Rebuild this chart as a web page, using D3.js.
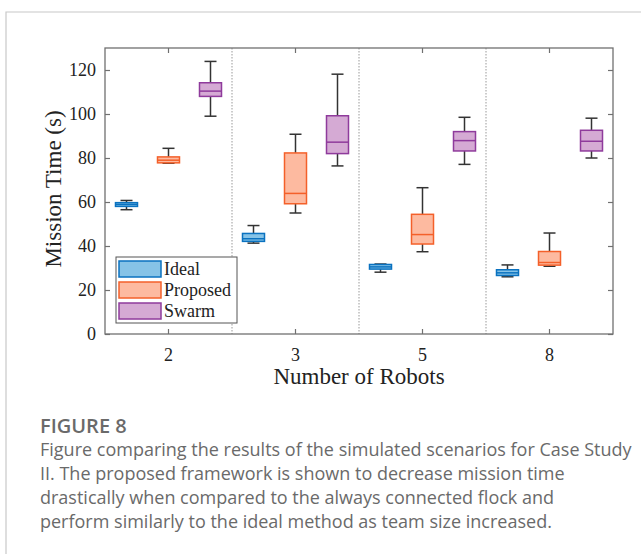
<!DOCTYPE html>
<html>
<head>
<meta charset="utf-8">
<script src="https://cdn.jsdelivr.net/npm/d3@7"></script>
<style>
  body { margin: 0; background: #fff; }
  svg text { font-family: "Liberation Serif", "DejaVu Serif", serif; }
  .caption { font-family: "Open Sans", "Noto Sans", sans-serif; fill: #6a6a6a; }
</style>
</head>
<body>
<script>
// robots per team (one group each)
const categories = ["2", "3", "5", "8"];
const seriesNames = ["Ideal", "Proposed", "Swarm"];
const yTicks = [0, 20, 40, 60, 80, 100, 120];

// box stats per group: [whisker low, q1, median, q3, whisker high]
const idealStats = [
  [56.5, 58.0, 58.9, 59.7, 60.7],
  [41.3, 42.1, 43.3, 45.7, 49.3],
  [28.1, 29.5, 30.5, 31.6, 31.8],
  [26.0, 26.6, 27.8, 29.2, 31.4]
];
const proposedStats = [
  [77.6, 77.8, 79.0, 80.5, 84.4],
  [55.0, 59.2, 63.9, 82.3, 90.8],
  [37.4, 40.9, 45.2, 54.4, 66.5],
  [30.8, 31.3, 32.5, 37.5, 45.9]
];
const swarmStats = [
  [99.0, 108.0, 110.4, 114.2, 123.9],
  [76.4, 82.0, 87.2, 99.2, 118.1],
  [77.1, 83.2, 87.9, 92.0, 98.5],
  [80.0, 83.2, 87.6, 92.6, 98.1]
];

const captionTitle = "FIGURE 8";
const captionLines = [
  "Figure comparing the results of the simulated scenarios for Case Study",
  "II. The proposed framework is shown to decrease mission time",
  "drastically when compared to the always connected flock and",
  "perform similarly to the ideal method as team size increased."
];

const strokes = ["#0a72c0", "#f4602a", "#8f3b9c"];
const fills = ["#86c3e7", "#fdbaa0", "#d5aad4"];
const allStats = [idealStats, proposedStats, swarmStats];

const W = 641, H = 554;
const margin = { left: 105, right: 28, top: 48, bottom: 220 };

const svg = d3.select("body").append("svg")
  .attr("width", W).attr("height", H);

// page frame
svg.append("path")
  .attr("d", `M6,${H} V12 H${W}`)
  .attr("fill", "none").attr("stroke", "#c8c8c8").attr("stroke-width", 1.2);

const x0 = margin.left, x1 = W - margin.right;
const y0 = H - margin.bottom, y1 = margin.top;

const x = d3.scaleBand().domain(categories).range([x0, x1]);
const y = d3.scaleLinear().domain([0, 130]).range([y0, y1]);
const offset = d3.scalePoint().domain(seriesNames).range([-42, 42]);
const boxW = 22, capW = 12;

// dotted separators between groups
categories.slice(1).forEach(c => {
  svg.append("line")
    .attr("x1", x(c)).attr("x2", x(c))
    .attr("y1", y1).attr("y2", y0)
    .attr("stroke", "#999").attr("stroke-width", 1)
    .attr("stroke-dasharray", "1.5,1.5");
});

// boxes
allStats.forEach((stats, si) => {
  const g = svg.append("g");
  stats.forEach((s, ci) => {
    const cx = x(categories[ci]) + x.bandwidth() / 2 + offset(seriesNames[si]);
    const [lo, q1, med, q3, hi] = s;
    // whiskers
    g.append("line").attr("x1", cx).attr("x2", cx).attr("y1", y(q3)).attr("y2", y(hi))
      .attr("stroke", "#333").attr("stroke-width", 1.5);
    g.append("line").attr("x1", cx).attr("x2", cx).attr("y1", y(q1)).attr("y2", y(lo))
      .attr("stroke", "#333").attr("stroke-width", 1.5);
    [lo, hi].forEach(v => {
      g.append("line").attr("x1", cx - capW / 2).attr("x2", cx + capW / 2)
        .attr("y1", y(v)).attr("y2", y(v))
        .attr("stroke", "#333").attr("stroke-width", 1.5);
    });
    g.append("rect")
      .attr("x", cx - boxW / 2).attr("y", y(q3))
      .attr("width", boxW).attr("height", y(q1) - y(q3))
      .attr("fill", fills[si]).attr("stroke", strokes[si]).attr("stroke-width", 1.5);
    g.append("line").attr("x1", cx - boxW / 2).attr("x2", cx + boxW / 2)
      .attr("y1", y(med)).attr("y2", y(med))
      .attr("stroke", strokes[si]).attr("stroke-width", 1.5);
  });
});

// axes (MATLAB style, ticks inward, box on)
const tickLen = 5;
const axisColor = "#707070";
svg.append("g").attr("transform", `translate(0,${y0})`)
  .call(d3.axisBottom(x).tickSizeInner(-tickLen).tickSizeOuter(0).tickPadding(14));
svg.append("g").attr("transform", `translate(0,${y1})`)
  .call(d3.axisTop(x).tickSizeInner(-tickLen).tickSizeOuter(0).tickFormat(""));
svg.append("g").attr("transform", `translate(${x0},0)`)
  .call(d3.axisLeft(y).tickValues(yTicks).tickSizeInner(-tickLen).tickSizeOuter(0).tickPadding(9));
svg.append("g").attr("transform", `translate(${x1},0)`)
  .call(d3.axisRight(y).tickValues(yTicks).tickSizeInner(-tickLen).tickSizeOuter(0).tickFormat(""));

svg.selectAll(".domain").remove();
svg.selectAll(".tick line").attr("stroke", axisColor).attr("stroke-width", 1.2);
svg.selectAll(".tick text").attr("fill", "#222").style("font-size", "18px")
  .style("font-family", '"Liberation Serif", serif');

svg.append("rect")
  .attr("x", x0).attr("y", y1).attr("width", x1 - x0).attr("height", y0 - y1)
  .attr("fill", "none").attr("stroke", axisColor).attr("stroke-width", 1.3);

// axis titles
svg.append("text")
  .attr("x", (x0 + x1) / 2).attr("y", 384)
  .attr("text-anchor", "middle").attr("fill", "#222")
  .style("font-size", "23px")
  .text("Number of Robots");

svg.append("text")
  .attr("transform", `translate(61,${(y0 + y1) / 2 - 2}) rotate(-90)`)
  .attr("text-anchor", "middle").attr("fill", "#222")
  .style("font-size", "23px")
  .text("Mission Time (s)");

// legend
const leg = svg.append("g").attr("transform", "translate(116,257)");
leg.append("rect").attr("width", 121).attr("height", 66)
  .attr("fill", "#fff").attr("stroke", "#555").attr("stroke-width", 1);
seriesNames.forEach((name, i) => {
  const ly = 4 + i * 21;
  leg.append("rect").attr("x", 3).attr("y", ly).attr("width", 42).attr("height", 16)
    .attr("fill", fills[i]).attr("stroke", strokes[i]).attr("stroke-width", 1.5);
  leg.append("text").attr("x", 48).attr("y", ly + 14)
    .attr("fill", "#222").style("font-size", "18px").text(name);
});

// caption
svg.append("text").attr("class", "caption")
  .attr("x", 40).attr("y", 433)
  .style("font-size", "20px").style("font-weight", "600")
  .style("font-family", '"Open Sans", sans-serif')
  .text(captionTitle);

captionLines.forEach((line, i) => {
  svg.append("text").attr("class", "caption")
    .attr("x", 40).attr("y", 456 + i * 24)
    .style("font-size", "18px")
    .style("font-family", '"Open Sans", sans-serif')
    .text(line);
});
</script>
</body>
</html>
